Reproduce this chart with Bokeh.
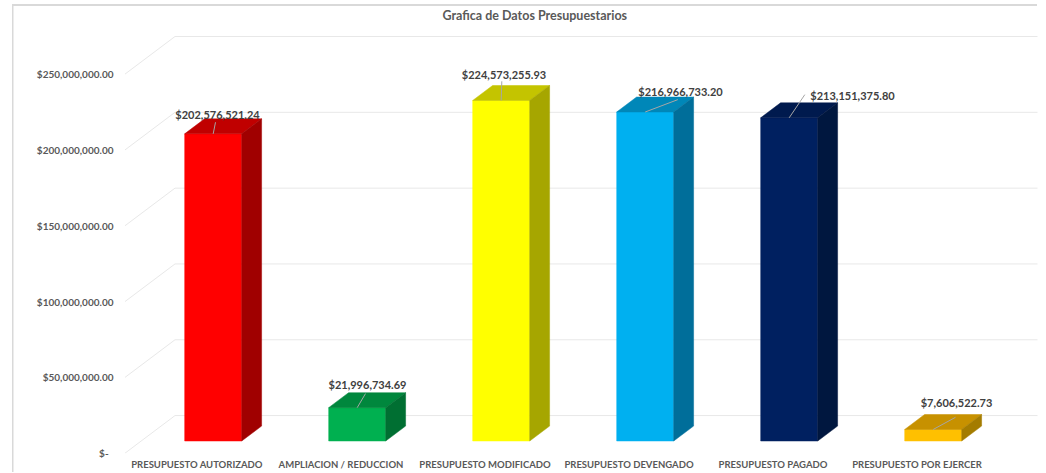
from bokeh.plotting import figure
from bokeh.models import Range1d, FixedTicker, NumeralTickFormatter, ColumnDataSource, Title
from bokeh.embed import file_html
from bokeh.resources import INLINE
from bokeh.core.properties import value

# ---------------- data ----------------
categories = ["PRESUPUESTO AUTORIZADO", "AMPLIACION / REDUCCION", "PRESUPUESTO MODIFICADO",
              "PRESUPUESTO DEVENGADO", "PRESUPUESTO PAGADO", "PRESUPUESTO POR EJERCER"]
amounts = [202576521.24, 21996734.69, 224573255.93, 216966733.20, 213151375.80, 7606522.73]
y_ticks = [0, 50000000, 100000000, 150000000, 200000000, 250000000]
title_text = "Grafica de Datos Presupuestarios"

# ---------------- styles ----------------
front_colors = ["#FF0000", "#00B050", "#FFFF00", "#00B0F0", "#002060", "#FFC000"]
top_colors = ["#C00000", "#00873D", "#C4C400", "#0087B8", "#001A4E", "#C79100"]
side_colors = ["#A00000", "#006F32", "#A6A600", "#006E9A", "#00173F", "#A47C00"]
# manual data-label placement (pixels, relative to the bar's front-top centre)
label_dx = [4.3, 10.3, 2.8, 35.3, 63.3, 23.3]
label_dy = [-19.6, -22.8, -25.9, -20.7, -22.5, -27.2]
leader_dx = [2.3, 8.3, 0.6, 32.6, 15.6, 22.3]
leader_dy = [-11.6, -14.1, -19.2, -12.4, -23.2, -12.2]

FONT = "Lato"
GRID = "#E8E8E8"
BORDER = "#D9D9D9"

# ---------------- 3D oblique projection (layout constants) ----------------
W, H = 1045, 472
PX_PER_CAT = 144.0
PX_PER_USD = 1.52e-6
DX = 50.0 / PX_PER_CAT           # depth shift in x (category units)
DY = 37.7 / PX_PER_USD           # depth shift in y (dollar units)
HALF = 28.5 / PX_PER_CAT         # half bar width
D_FRONT, D_BACK = 0.324, 0.722   # bar depth slice
CAT0_PX, ZERO_PX = 196.5, 452.7  # canvas position of category 0 / value 0 at depth 0
FRAME_L, FRAME_R, FRAME_T, FRAME_B = 120, 1037, 30, 453


def proj(x, v, d):
    return x + d * DX, v + d * DY


x_range = Range1d((FRAME_L - CAT0_PX) / PX_PER_CAT, (FRAME_R - CAT0_PX) / PX_PER_CAT)
y_range = Range1d((ZERO_PX - FRAME_B) / PX_PER_USD, (ZERO_PX - FRAME_T) / PX_PER_USD)

p = figure(width=W, height=H, x_range=x_range, y_range=y_range,
           output_backend="svg", toolbar_location=None,
           min_border_left=FRAME_L, min_border_right=W - FRAME_R,
           min_border_top=FRAME_T, min_border_bottom=H - FRAME_B)
p.outline_line_color = None
p.background_fill_color = "white"
p.border_fill_color = None
# chart-area border (top and left edges), painted behind the transparent canvas border
p.styles = {
    "background": (
        f"linear-gradient({BORDER},{BORDER}) 12px 4px / 1025px 2px no-repeat, "
        f"linear-gradient({BORDER},{BORDER}) 12px 4px / 1.5px 100% no-repeat, white"
    )
}
p.xgrid.visible = False
p.ygrid.visible = False

t = Title(text=title_text, align="left", offset=442 - FRAME_L, vertical_align="top",
          standoff=14, text_font=FONT, text_font_size="12.5px", text_font_style="bold",
          text_color="#595959")
p.add_layout(t, "above")

# ---------------- walls / gridlines ----------------
n = len(categories)
gx0, gy0, gx1, gy1 = [], [], [], []
sx0, sy0, sx1, sy1 = [], [], [], []
for v in y_ticks:
    a = proj(-0.5, v, 1.0)
    b = proj(n - 0.5, v, 1.0)
    gx0.append(a[0]); gy0.append(a[1]); gx1.append(b[0]); gy1.append(b[1])
    c = proj(-0.5, v, 0.0)
    sx0.append(c[0]); sy0.append(c[1]); sx1.append(a[0]); sy1.append(a[1])
p.segment(gx0, gy0, gx1, gy1, line_color=GRID, line_width=1)
p.segment(sx0, sy0, sx1, sy1, line_color=GRID, line_width=1)

# ---------------- 3D bars ----------------
front = dict(left=[], right=[], bottom=[], top=[], color=[])
top_xs, top_ys, side_xs, side_ys = [], [], [], []
lx, ly, lead_x0, lead_y0, lead_x1, lead_y1, texts = [], [], [], [], [], [], []
for i, v in enumerate(amounts):
    l, _ = proj(i - HALF, 0, D_FRONT)
    r, b0 = proj(i + HALF, 0, D_FRONT)
    _, tv = proj(i, v, D_FRONT)
    front["left"].append(l); front["right"].append(r)
    front["bottom"].append(b0); front["top"].append(tv)
    front["color"].append(front_colors[i])
    pts_top = [proj(i - HALF, v, D_FRONT), proj(i + HALF, v, D_FRONT),
               proj(i + HALF, v, D_BACK), proj(i - HALF, v, D_BACK)]
    top_xs.append([q[0] for q in pts_top]); top_ys.append([q[1] for q in pts_top])
    pts_side = [proj(i + HALF, 0, D_FRONT), proj(i + HALF, v, D_FRONT),
                proj(i + HALF, v, D_BACK), proj(i + HALF, 0, D_BACK)]
    side_xs.append([q[0] for q in pts_side]); side_ys.append([q[1] for q in pts_side])
    cx, cy = proj(i, v, D_FRONT)
    lx.append(cx); ly.append(cy)
    lead_x0.append(cx); lead_y0.append(cy)
    lead_x1.append(cx + leader_dx[i] / PX_PER_CAT)
    lead_y1.append(cy - leader_dy[i] / PX_PER_USD)
    texts.append("${:,.2f}".format(v))

p.quad(source=ColumnDataSource(front), left="left", right="right", bottom="bottom",
       top="top", fill_color="color", line_color="color", line_width=0.5)
p.patches(top_xs, top_ys, fill_color=top_colors, line_color=top_colors, line_width=0.5)
p.patches(side_xs, side_ys, fill_color=side_colors, line_color=side_colors, line_width=0.5)

# ---------------- data labels ----------------
p.segment(lead_x0, lead_y0, lead_x1, lead_y1, line_color="#A6A6A6", line_width=1)
lab = ColumnDataSource(dict(x=lx, y=ly, text=texts, dx=label_dx, dy=label_dy))
p.text(x="x", y="y", text="text", x_offset="dx", y_offset="dy", source=lab,
       text_align="center", text_baseline="middle", text_font=value(FONT),
       text_font_size="11px", text_font_style="bold", text_color="#404040")

# ---------------- axes ----------------
xa = p.xaxis[0]
xa.ticker = FixedTicker(ticks=list(range(n)))
xa.major_label_overrides = {i: c for i, c in enumerate(categories)}
xa.major_label_text_font = FONT
xa.major_label_text_font_size = "9.5px"
xa.major_label_text_font_style = "bold"
xa.major_label_text_color = "#595959"
xa.major_label_standoff = 5
xa.axis_line_color = None
xa.major_tick_line_color = None
xa.minor_tick_line_color = None
xa.major_tick_out = 0
xa.major_tick_in = 0

ya = p.yaxis[0]
ya.ticker = FixedTicker(ticks=y_ticks)
ya.formatter = NumeralTickFormatter(format="$0,0.00")
ya.major_label_overrides = {0: "$-\u00a0\u00a0"}
ya.major_label_text_font = FONT
ya.major_label_text_font_size = "10px"
ya.major_label_text_font_style = "bold"
ya.major_label_text_color = "#595959"
ya.major_label_standoff = 7
ya.axis_line_color = None
ya.major_tick_line_color = None
ya.minor_tick_line_color = None
ya.major_tick_out = 0
ya.major_tick_in = 0

open("out.html", "w").write(file_html(p, INLINE))
